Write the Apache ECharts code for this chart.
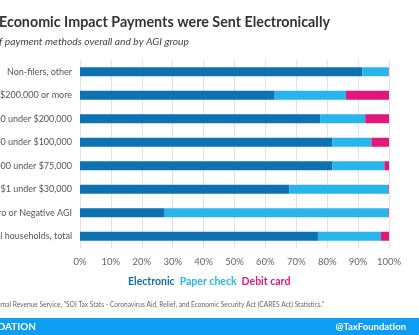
<!DOCTYPE html>
<html><head><meta charset="utf-8">
<script src="https://cdn.jsdelivr.net/npm/echarts@6/dist/echarts.min.js"></script>
<style>html,body{margin:0;padding:0;background:#fff}#c{width:419px;height:335px}</style>
</head><body><div id="c"></div>
<script>
const categories = ["Non-filers, other","$200,000 or more","$100,000 under $200,000","$75,000 under $100,000","$30,000 under $75,000","$1 under $30,000","Zero or Negative AGI","All households, total"];
const electronic = [91.4, 63.0, 77.7, 81.6, 81.6, 67.7, 27.4, 77.0];
const paperCheck = [8.5, 23.1, 14.6, 12.7, 16.9, 32.1, 72.4, 20.4];
const debitCard  = [0.1, 13.9, 7.7, 5.7, 1.5, 0.2, 0.2, 2.6];
const tickLabels = ["0%","10%","20%","30%","40%","50%","60%","70%","80%","90%","100%"];
const seriesNames = ["Electronic","Paper check","Debit card"];
const colors = ["#0e71b2","#27b5ec","#e3177b"];

const chart = echarts.init(document.getElementById('c'), null, {renderer:'canvas'});
const F = 'Lato, "Open Sans", sans-serif';
chart.setOption({
  animation:false,
  textStyle:{fontFamily:F},
  grid:{left:80, right:30, top:60, bottom:87, containLabel:false, outerBoundsMode:'none'},
  xAxis:{type:'value', min:0, max:100, interval:10,
    axisLine:{show:false}, axisTick:{show:false},
    splitLine:{lineStyle:{color:'#e2e2e2', width:1}},
    axisLabel:{formatter:(v)=>tickLabels[Math.round(v/10)], color:'#666', fontSize:9.5, margin:9, fontFamily:F}},
  yAxis:{type:'category', data:categories, inverse:true,
    axisLine:{show:false}, axisTick:{show:false},
    axisLabel:{color:'#555', fontSize:9, margin:8, fontFamily:F}},
  legend:{left:118, top:271, icon:'none', itemWidth:0, itemHeight:0, itemGap:0,
    data:seriesNames.map((n,i)=>({name:n, textStyle:{color:colors[i], fontWeight:'bold', fontSize:10.5, fontFamily:F}}))},
  series:[electronic, paperCheck, debitCard].map((d,i)=>({
    name:seriesNames[i], type:'bar', stack:'s', data:d, barWidth:9,
    itemStyle:{color:colors[i]}})),
  graphic:[
    {type:'text', right:89, top:15, style:{text:'Most Economic Impact Payments were Sent Electronically', font:'bold 14.3px '+F, fill:'#333'}},
    {type:'text', right:230, top:37, style:{text:'Share of payment methods overall and by AGI group', font:'italic 10.3px '+F, fill:'#444'}},
    {type:'text', right:95, top:301, style:{text:'Source: Internal Revenue Service, "SOI Tax Stats - Coronavirus Aid, Relief, and Economic Security Act (CARES Act) Statistics."', font:'6.6px '+F, fill:'#666'}},
    {type:'rect', shape:{x:0, y:318, width:419, height:17}, style:{fill:'#0d9df2'}},
    {type:'text', right:383, top:322, style:{text:'TAX FOUNDATION', font:'bold 10px '+F, fill:'#fff'}},
    {type:'text', right:13, top:322, style:{text:'@TaxFoundation', font:'bold 9.5px '+F, fill:'#fff'}}
  ]
});
</script></body></html>
